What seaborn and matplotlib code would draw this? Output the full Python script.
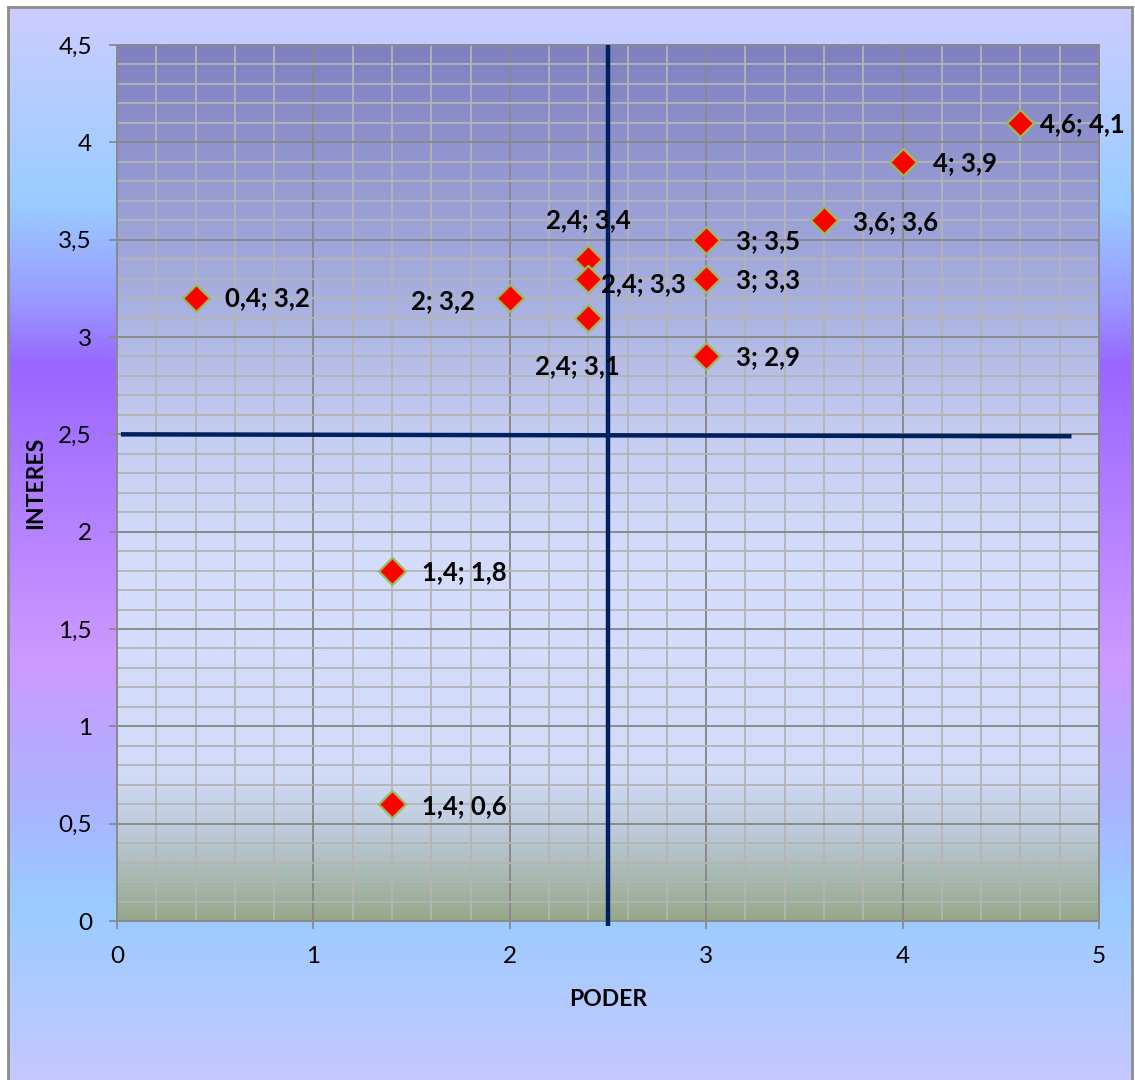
import numpy as np
import matplotlib
matplotlib.use("Agg")
import matplotlib.pyplot as plt
from matplotlib.colors import LinearSegmentedColormap
from matplotlib.ticker import FuncFormatter, MultipleLocator
import seaborn as sns

plt.rcParams['font.family'] = ['Lato', 'DejaVu Sans']

# Stakeholder positions: power (PODER) vs interest (INTERES)
poder = [0.4, 2.0, 2.4, 2.4, 2.4, 3.0, 3.0, 3.0, 3.6, 4.0, 4.6, 1.4, 1.4]
interes = [3.2, 3.2, 3.4, 3.3, 3.1, 3.5, 3.3, 2.9, 3.6, 3.9, 4.1, 1.8, 0.6]

# Quadrant divider lines
divider_x = [2.5, 2.5]
divider_x_span = [4.5, -0.026]
divider_y_span = [0.02, 4.86]
divider_y = [2.5, 2.49]

x_ticks = [0, 1, 2, 3, 4, 5]
y_ticks = [0, 0.5, 1, 1.5, 2, 2.5, 3, 3.5, 4, 4.5]

# label placement (offset in pixels, horizontal alignment) for each point
label_place = [
    (29, 0, 'left'), (-35, -3, 'right'), (0, 39, 'center'), (13, -6, 'left'),
    (-11, -49, 'center'), (30, -1.5, 'left'), (30, -2, 'left'), (30, -1, 'left'),
    (29, -2, 'left'), (30, -1, 'left'), (20, -1, 'left'), (30, -2, 'left'),
    (30, -2, 'left'),
]

W, H = 1135, 1080
fig = plt.figure(figsize=(W / 100, H / 100), dpi=100)
fig.patch.set_facecolor('white')

# Chart area background with its vertical gradient
bg = fig.add_axes([8 / W, -0.01, (1132 - 8) / W, 1 - 7 / H + 0.01], zorder=-5)
bg_cmap = LinearSegmentedColormap.from_list('bg', [
    (0.00, '#ccccff'), (0.18, '#99ccff'), (0.27, '#9999ff'), (0.33, '#9966ff'),
    (0.60, '#cc99ff'), (0.74, '#aab4ff'), (0.83, '#99ccff'), (1.00, '#c8c8ff'),
])
bg.imshow(np.linspace(0, 1, 512).reshape(-1, 1), aspect='auto', cmap=bg_cmap,
          extent=[0, 1, 0, 1], origin='upper')
bg.set_xlim(0, 1)
bg.set_ylim(0, 1)
bg.set_xticks([])
bg.set_yticks([])
for s in bg.spines.values():
    s.set_color('#8c8c8c')
    s.set_linewidth(2)

ax = fig.add_axes([117 / W, 1 - 921 / H, (1099 - 117) / W, (921 - 45) / H])
ax.set_facecolor('none')

# Plot area gradient
pa_cmap = LinearSegmentedColormap.from_list('pa', [
    (0.00, '#8080c0'), (0.29, '#a8b0e0'), (0.44, '#c4ccf0'), (0.58, '#d4dcfc'),
    (0.83, '#d2dcf8'), (0.90, '#bccad8'), (1.00, '#96a88a'),
])
ax.imshow(np.linspace(0, 1, 512).reshape(-1, 1), aspect='auto', cmap=pa_cmap,
          extent=[0, 5, 0, 4.5], origin='upper', zorder=0)

ax.set_xlim(0, 5)
ax.set_ylim(0, 4.5)
ax.set_xticks(x_ticks)
ax.set_yticks(y_ticks)
ax.xaxis.set_minor_locator(MultipleLocator(0.2))
ax.yaxis.set_minor_locator(MultipleLocator(0.1))
ax.set_axisbelow(True)
ax.grid(which='minor', color='#b4b4b4', linewidth=1.3, zorder=0.5)
ax.grid(which='major', color='#8a8a8a', linewidth=1.4, zorder=0.6)

fmt = FuncFormatter(lambda v, p: f"{v:g}".replace('.', ','))
ax.xaxis.set_major_formatter(fmt)
ax.yaxis.set_major_formatter(fmt)
ax.tick_params(which='major', length=6, width=1.3, color='#8a8a8a',
               labelsize=17.5, labelcolor='black')
ax.tick_params(axis='x', which='major', pad=12)
ax.tick_params(axis='y', which='major', pad=12)
ax.tick_params(which='minor', length=0)
for s in ax.spines.values():
    s.set_color('#8a8a8a')
    s.set_linewidth(1.4)

# Quadrant lines
ax.plot(divider_x, divider_x_span, color='#002060', linewidth=3.2, zorder=3,
        clip_on=False, solid_capstyle='butt')
ax.plot(divider_y_span, divider_y, color='#002060', linewidth=3.2, zorder=3,
        solid_capstyle='butt')

sns.scatterplot(x=poder, y=interes, marker='D', s=190, color='#ff0000',
                edgecolor='#9bbb59', linewidth=1.6, zorder=4, ax=ax, legend=False)

for xv, yv, (dx, dy, ha) in zip(poder, interes, label_place):
    txt = f"{xv:g}".replace('.', ',') + "; " + f"{yv:g}".replace('.', ',')
    ax.annotate(txt, (xv, yv), xytext=(dx * 0.72, dy * 0.72),
                textcoords='offset points', ha=ha, va='center',
                fontsize=18.5, fontweight='bold', color='black', zorder=5)

ax.set_xlabel('PODER', fontsize=16.5, fontweight='bold', labelpad=16)
ax.set_ylabel('INTERES', fontsize=16.5, fontweight='bold', labelpad=9)

fig.savefig('out.png', dpi=100)
